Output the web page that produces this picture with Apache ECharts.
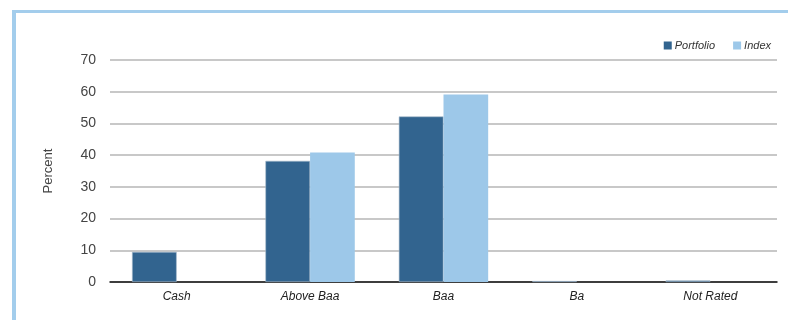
<!DOCTYPE html>
<html>
<head>
<meta charset="utf-8">
<script src="https://cdn.jsdelivr.net/npm/echarts@6/dist/echarts.min.js"></script>
<style>
	html, body { margin: 0; padding: 0; background: #fff; }
	.com-container { position: relative; width: 788px; height: 320px; }
	.com-chart { width: 788px; height: 320px; }
	.frame {
		position: absolute; left: 12px; top: 10px; right: 0; bottom: 0;
		border-left: 4px solid #a3cdec; border-top: 3px solid #a3cdec;
		pointer-events: none;
	}
</style>
</head>
<body>
<div class="com-container">
	<div class="com-chart" id="chart"></div>
	<div class="frame"></div>
</div>
<script>
// 数据
const categories = ['Cash', 'Above Baa', 'Baa', 'Ba', 'Not Rated']
const portfolio = [9.5, 38.2, 52.2, 0.3, 0.5]
const index = [0, 40.8, 59.1, 0, 0]
const yTicks = [0, 10, 20, 30, 40, 50, 60, 70]

const font = '"Liberation Sans Narrow", "Liberation Sans", Arial, sans-serif'

const chartInstance = echarts.init(document.getElementById('chart'))
const option = {
	animation: false,
	textStyle: { fontFamily: font },
	grid: {
		left: 110,
		right: 11,
		top: 60,
		bottom: 38,
	},
	legend: {
		top: 35,
		right: 12,
		itemWidth: 8,
		itemHeight: 8,
		itemGap: 18,
		icon: 'rect',
		itemStyle: { borderWidth: 0 },
		textStyle: {
			fontFamily: font,
			fontStyle: 'italic',
			fontSize: 11,
			color: '#333',
			padding: [0, 0, 0, -2],
		},
		data: ['Portfolio', 'Index'],
	},
	xAxis: {
		type: 'category',
		data: categories,
		axisLine: {
			show: true,
			lineStyle: { color: '#111', width: 1.5 },
		},
		axisTick: { show: false },
		axisLabel: {
			color: '#222',
			fontStyle: 'italic',
			fontSize: 12,
			margin: 9,
			interval: 0,
		},
	},
	yAxis: {
		type: 'value',
		name: 'Percent',
		nameLocation: 'middle',
		nameGap: 55,
		nameTextStyle: { color: '#444', fontSize: 13, fontFamily: font },
		min: yTicks[0],
		max: yTicks[yTicks.length - 1],
		interval: 10,
		axisLine: { show: false },
		axisTick: { show: false },
		splitLine: {
			show: true,
			lineStyle: { color: '#c8c8c8', width: 2 },
		},
		axisLabel: {
			color: '#444',
			fontSize: 14,
			margin: 14,
			fontFamily: 'Arial, "Liberation Sans", sans-serif',
		},
	},
	series: [
		{
			type: 'bar',
			name: 'Portfolio',
			data: portfolio,
			barGap: '0%',
			barCategoryGap: '33%',
			itemStyle: { color: '#32648f', borderColor: '#a9bccd', borderWidth: 0.6 },
		},
		{
			type: 'bar',
			name: 'Index',
			data: index,
			itemStyle: { color: '#9dc8e9' },
		},
	],
}
chartInstance.setOption(option)
</script>
</body>
</html>
